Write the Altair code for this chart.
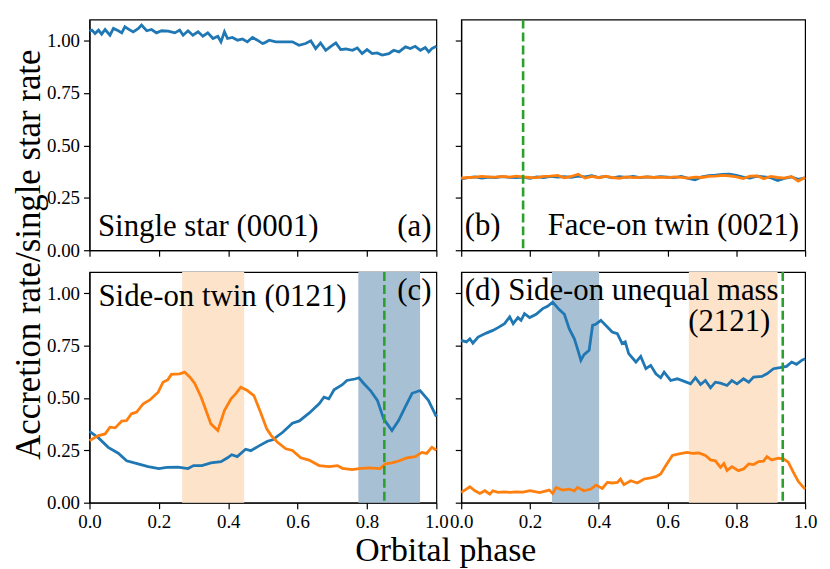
import altair as alt
import pandas as pd

# ---------------- data ----------------
# (a) Single star (0001)
a_phase = [0.0, 0.007, 0.016, 0.026, 0.035, 0.045, 0.059, 0.069, 0.083, 0.093, 0.102, 0.117, 0.126,
           0.141, 0.15, 0.165, 0.179, 0.193, 0.208, 0.227, 0.246, 0.26, 0.27, 0.284, 0.298, 0.313,
           0.327, 0.341, 0.356, 0.37, 0.379, 0.389, 0.398, 0.412, 0.427, 0.441, 0.455, 0.47, 0.484,
           0.499, 0.504, 0.518, 0.537, 0.566, 0.585, 0.604, 0.623, 0.638, 0.652, 0.666, 0.681, 0.696,
           0.71, 0.724, 0.739, 0.758, 0.772, 0.786, 0.8, 0.815, 0.829, 0.844, 0.863, 0.877, 0.892,
           0.911, 0.925, 0.939, 0.954, 0.968, 0.978, 0.987, 1.0]
a_rate = [1.045, 1.050, 1.034, 1.050, 1.031, 1.053, 1.026, 1.058, 1.047, 1.037, 1.066, 1.050, 1.042,
          1.058, 1.074, 1.047, 1.053, 1.037, 1.047, 1.045, 1.037, 1.050, 1.026, 1.047, 1.026, 1.042,
          1.021, 1.037, 1.010, 1.021, 0.994, 1.042, 1.010, 1.015, 1.002, 1.008, 0.994, 1.015, 1.002,
          0.986, 0.989, 1.002, 0.994, 0.994, 0.994, 0.978, 0.986, 0.999, 0.962, 0.989, 0.954, 0.973,
          0.989, 0.957, 0.960, 0.954, 0.965, 0.938, 0.957, 0.938, 0.941, 0.931, 0.938, 0.954, 0.946,
          0.970, 0.962, 0.973, 0.954, 0.967, 0.946, 0.962, 0.973]

# (b) Face-on twin (0021)
b_phase = [0.00, 0.02, 0.04, 0.06, 0.08, 0.10, 0.12, 0.14, 0.16, 0.18, 0.20, 0.22, 0.24, 0.26, 0.28,
           0.30, 0.32, 0.34, 0.36, 0.38, 0.40, 0.42, 0.44, 0.46, 0.48, 0.50, 0.52, 0.54, 0.56, 0.58,
           0.60, 0.62, 0.64, 0.66, 0.68, 0.70, 0.72, 0.74, 0.76, 0.78, 0.80, 0.82, 0.84, 0.86, 0.88,
           0.90, 0.92, 0.94, 0.96, 0.98, 1.00]
b_rate1 = [0.341, 0.346, 0.350, 0.344, 0.349, 0.347, 0.351, 0.348, 0.346, 0.349, 0.343, 0.350, 0.347,
           0.352, 0.349, 0.351, 0.348, 0.354, 0.350, 0.356, 0.347, 0.352, 0.345, 0.351, 0.348, 0.352,
           0.346, 0.350, 0.348, 0.351, 0.349, 0.346, 0.352, 0.343, 0.336, 0.350, 0.356, 0.358, 0.362,
           0.363, 0.357, 0.349, 0.344, 0.353, 0.350, 0.346, 0.333, 0.343, 0.350, 0.338, 0.345]
b_rate2 = [0.344, 0.347, 0.349, 0.352, 0.350, 0.349, 0.352, 0.349, 0.354, 0.350, 0.347, 0.346, 0.352,
           0.354, 0.357, 0.345, 0.352, 0.363, 0.344, 0.352, 0.346, 0.353, 0.347, 0.343, 0.350, 0.346,
           0.348, 0.350, 0.347, 0.349, 0.346, 0.350, 0.348, 0.344, 0.349, 0.347, 0.352, 0.354, 0.357,
           0.355, 0.350, 0.342, 0.353, 0.355, 0.341, 0.352, 0.347, 0.344, 0.352, 0.330, 0.347]
b_eclipse = 0.18

# (c) Side-on twin (0121)
c_phase1 = [0.0, 0.026, 0.054, 0.083, 0.107, 0.14, 0.169, 0.2, 0.223, 0.255, 0.284, 0.30, 0.324,
            0.35, 0.379, 0.398, 0.41, 0.426, 0.45, 0.465, 0.49, 0.513, 0.528, 0.557, 0.585, 0.605,
            0.633, 0.662, 0.676, 0.69, 0.705, 0.729, 0.742, 0.765, 0.777, 0.79, 0.81, 0.83, 0.848,
            0.872, 0.891, 0.91, 0.93, 0.953, 0.977, 1.0]
c_rate1 = [0.340, 0.309, 0.264, 0.236, 0.200, 0.185, 0.172, 0.163, 0.168, 0.170, 0.163, 0.177, 0.177,
           0.190, 0.196, 0.214, 0.229, 0.220, 0.255, 0.248, 0.272, 0.293, 0.300, 0.336, 0.379, 0.390,
           0.427, 0.472, 0.503, 0.495, 0.539, 0.563, 0.583, 0.590, 0.596, 0.570, 0.535, 0.488, 0.400,
           0.344, 0.392, 0.456, 0.522, 0.535, 0.488, 0.411]
c_phase2 = [0.0, 0.026, 0.045, 0.059, 0.074, 0.093, 0.107, 0.121, 0.136, 0.155, 0.174, 0.198, 0.212,
            0.226, 0.236, 0.26, 0.274, 0.289, 0.303, 0.322, 0.336, 0.35, 0.37, 0.389, 0.408, 0.422,
            0.436, 0.455, 0.474, 0.492, 0.511, 0.524, 0.542, 0.566, 0.585, 0.609, 0.633, 0.662, 0.691,
            0.715, 0.729, 0.757, 0.777, 0.805, 0.838, 0.853, 0.872, 0.891, 0.915, 0.939, 0.958, 0.972,
            0.987, 1.0]
c_rate2 = [0.296, 0.320, 0.328, 0.360, 0.357, 0.389, 0.392, 0.424, 0.432, 0.472, 0.490, 0.527, 0.575,
           0.587, 0.612, 0.615, 0.623, 0.600, 0.570, 0.503, 0.440, 0.376, 0.344, 0.440, 0.496, 0.520,
           0.551, 0.535, 0.511, 0.436, 0.352, 0.320, 0.288, 0.257, 0.249, 0.214, 0.203, 0.177, 0.172,
           0.177, 0.164, 0.158, 0.163, 0.166, 0.163, 0.185, 0.190, 0.199, 0.214, 0.220, 0.240, 0.235,
           0.264, 0.250]
c_span_start = [0.775, 0.267]
c_span_end = [0.953, 0.446]
c_span_star = ["Star 1", "Star 2"]
c_eclipse = 0.85

# (d) Side-on unequal mass (2121)
d_phase1 = [0.0, 0.015, 0.025, 0.034, 0.049, 0.073, 0.092, 0.107, 0.126, 0.141, 0.151, 0.165, 0.174,
            0.184, 0.199, 0.218, 0.237, 0.251, 0.266, 0.285, 0.30, 0.314, 0.329, 0.338, 0.348, 0.357,
            0.372, 0.382, 0.391, 0.406, 0.425, 0.439, 0.454, 0.468, 0.477, 0.487, 0.508, 0.522, 0.537,
            0.551, 0.566, 0.58, 0.59, 0.609, 0.628, 0.647, 0.667, 0.681, 0.696, 0.71, 0.725, 0.739,
            0.754, 0.773, 0.787, 0.802, 0.821, 0.836, 0.85, 0.874, 0.889, 0.908, 0.927, 0.946, 0.961,
            0.975, 0.99, 1.0]
d_rate1 = [0.774, 0.767, 0.782, 0.761, 0.790, 0.809, 0.822, 0.835, 0.854, 0.886, 0.854, 0.883, 0.870,
           0.902, 0.883, 0.899, 0.926, 0.937, 0.957, 0.921, 0.899, 0.830, 0.782, 0.735, 0.679, 0.706,
           0.727, 0.846, 0.851, 0.870, 0.838, 0.814, 0.806, 0.759, 0.767, 0.711, 0.671, 0.698, 0.639,
           0.655, 0.615, 0.596, 0.623, 0.583, 0.591, 0.580, 0.567, 0.596, 0.564, 0.583, 0.548, 0.575,
           0.570, 0.559, 0.583, 0.567, 0.591, 0.575, 0.599, 0.602, 0.615, 0.639, 0.644, 0.650, 0.671,
           0.660, 0.679, 0.687]
d_phase2 = [0.0, 0.015, 0.025, 0.04, 0.054, 0.069, 0.083, 0.092, 0.107, 0.125, 0.141, 0.16, 0.18,
            0.2, 0.228, 0.256, 0.266, 0.276, 0.295, 0.314, 0.329, 0.338, 0.357, 0.377, 0.392, 0.41,
            0.425, 0.439, 0.454, 0.463, 0.473, 0.493, 0.512, 0.532, 0.551, 0.566, 0.58, 0.595, 0.614,
            0.633, 0.657, 0.672, 0.691, 0.71, 0.725, 0.739, 0.754, 0.764, 0.773, 0.787, 0.806, 0.821,
            0.836, 0.85, 0.865, 0.879, 0.889, 0.903, 0.922, 0.937, 0.951, 0.966, 0.98, 0.995, 1.0]
d_rate2 = [0.049, 0.065, 0.076, 0.057, 0.044, 0.057, 0.041, 0.057, 0.049, 0.052, 0.049, 0.052, 0.050,
           0.057, 0.048, 0.060, 0.044, 0.073, 0.060, 0.065, 0.056, 0.073, 0.057, 0.065, 0.084, 0.068,
           0.097, 0.094, 0.097, 0.113, 0.086, 0.105, 0.094, 0.113, 0.118, 0.124, 0.137, 0.177, 0.225,
           0.233, 0.240, 0.235, 0.237, 0.225, 0.204, 0.200, 0.169, 0.187, 0.153, 0.172, 0.153, 0.161,
           0.185, 0.182, 0.196, 0.198, 0.220, 0.204, 0.212, 0.209, 0.193, 0.145, 0.102, 0.073, 0.065]
d_span_start = [0.264, 0.662]
d_span_end = [0.401, 0.920]
d_span_star = ["Star 1", "Star 2"]
d_eclipse = 0.935

x_ticks = [0.0, 0.2, 0.4, 0.6, 0.8, 1.0]
y_ticks = [0.0, 0.25, 0.5, 0.75, 1.0]

# ---------------- styling ----------------
FONT = "Liberation Serif"
H = 232
W_LEFT = 349
W_RIGHT = 346
LINE_COLORS = ["#1f77b4", "#ff7f0e"]
SPAN_COLORS = ["#a8c0d4", "#fee3cb"]
STARS = ["Star 1", "Star 2"]

xscale = alt.Scale(domain=[0, 1], nice=False, zero=False)
yscale = alt.Scale(domain=[0, 1.1], nice=False, zero=False)
line_scale = alt.Scale(domain=STARS, range=LINE_COLORS)
span_scale = alt.Scale(domain=STARS, range=SPAN_COLORS)


def lines_df(pairs):
    rows = []
    for star, ph, rt in pairs:
        for p, r in zip(ph, rt):
            rows.append({"phase": p, "rate": r, "star": star})
    return pd.DataFrame(rows)


def panel(width, pairs, spans, eclipse, texts, xaxis, yaxis):
    layers = []
    if spans is not None:
        sdf = pd.DataFrame({"start": spans[0], "end": spans[1], "star": spans[2]})
        layers.append(
            alt.Chart(sdf).mark_rect(opacity=1, strokeWidth=0).encode(
                x=alt.X("start:Q", scale=xscale, axis=xaxis),
                x2="end:Q",
                y=alt.value(0),
                y2=alt.value(H),
                fill=alt.Fill("star:N", scale=span_scale, legend=None),
            )
        )
    layers.append(
        alt.Chart(lines_df(pairs)).mark_line(strokeWidth=2.8).encode(
            x=alt.X("phase:Q", scale=xscale, axis=xaxis),
            y=alt.Y("rate:Q", scale=yscale, axis=yaxis),
            stroke=alt.Stroke("star:N", scale=line_scale, legend=None),
            detail="star:N",
        )
    )
    if eclipse is not None:
        layers.append(
            alt.Chart(pd.DataFrame({"phase": [eclipse]})).mark_rule(
                color="#2ca02c", strokeDash=[9, 4], strokeWidth=2.6
            ).encode(x=alt.X("phase:Q", scale=xscale, axis=xaxis))
        )
    for txt, tx, ty, align in texts:
        layers.append(
            alt.Chart(pd.DataFrame({"t": [txt]})).mark_text(
                font=FONT, fontSize=31, color="black", align=align, baseline="alphabetic"
            ).encode(text="t:N", x=alt.value(tx), y=alt.value(ty))
        )
    return alt.layer(*layers).resolve_scale(fill="independent", stroke="independent").properties(
        width=width, height=H
    )


def xax(labels, **kw):
    return alt.Axis(values=x_ticks, format=".1f", labels=labels, labelFlush=False, grid=False, **kw)


def yax(labels, **kw):
    return alt.Axis(values=y_ticks, format=".2f", labels=labels, labelFlush=False, grid=False, **kw)


pa = panel(
    W_LEFT,
    [("Star 1", a_phase, a_rate)],
    None, None,
    [("Single star (0001)", 8.5, 218, "left"), ("(a)", 344, 218, "right")],
    xax(False, title=""),
    yax(True, title="Accretion rate/single star rate", titleX=-61, titleY=236, titleAngle=270,
        titleAlign="center", titleBaseline="middle", titleFontSize=35),
)
pb = panel(
    W_RIGHT,
    [("Star 1", b_phase, b_rate1), ("Star 2", b_phase, b_rate2)],
    None, b_eclipse,
    [("(b)", 3.5, 217, "left"), ("Face-on twin (0021)", 340, 217, "right")],
    xax(False, title=""),
    yax(False, title=""),
)
pc = panel(
    W_LEFT,
    [("Star 1", c_phase1, c_rate1), ("Star 2", c_phase2, c_rate2)],
    (c_span_start, c_span_end, c_span_star), c_eclipse,
    [("Side-on twin (0121)", 9, 34, "left"), ("(c)", 344, 28, "right")],
    xax(True, title="Orbital phase", titleX=358, titleY=58, titleAlign="center",
        titleBaseline="alphabetic", titleFontSize=34),
    yax(True, title=""),
)
pd_ = panel(
    W_RIGHT,
    [("Star 1", d_phase1, d_rate1), ("Star 2", d_phase2, d_rate2)],
    (d_span_start, d_span_end, d_span_star), d_eclipse,
    [("(d) Side-on unequal mass", 3.5, 28, "left"), ("(2121)", 311, 59, "right")],
    xax(True, title=""),
    yax(False, title=""),
)

chart = (
    alt.concat(pa, pb, pc, pd_, columns=2, spacing={"row": 22, "column": 25}, bounds="flush")
    .properties(padding={"left": 3, "top": 8, "right": 4, "bottom": 0})
    .configure_view(stroke="black", strokeWidth=1.2)
    .configure_axis(
        labelFont=FONT, labelFontSize=19, labelColor="black",
        titleFont=FONT, titleFontWeight="normal", titleColor="black",
        tickColor="black", tickSize=6, tickWidth=1.2,
        domainColor="black", domainWidth=1.2, labelPadding=4,
    )
)

chart.save("out.html", embed_options={"renderer": "svg", "actions": False})
